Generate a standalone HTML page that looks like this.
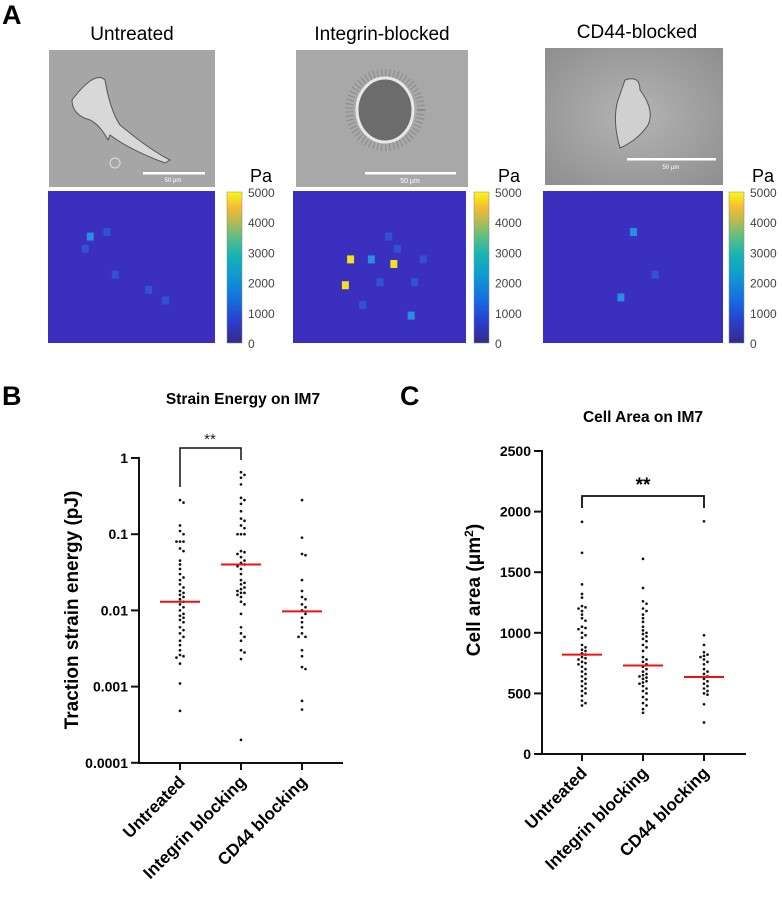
<!DOCTYPE html>
<html><head><meta charset="utf-8"><style>
body{margin:0;background:#fff;width:782px;height:905px;overflow:hidden;font-family:"Liberation Sans",sans-serif}
svg{display:block}
</style></head><body>
<svg id="fig" width="782" height="905" viewBox="0 0 782 905" xmlns="http://www.w3.org/2000/svg">
<defs>
<linearGradient id="parula" x1="0" y1="1" x2="0" y2="0">
<stop offset="0" stop-color="#352a87"/><stop offset="0.15" stop-color="#2a3fd0"/><stop offset="0.3" stop-color="#1272e0"/><stop offset="0.45" stop-color="#109bd0"/><stop offset="0.58" stop-color="#16b3b4"/><stop offset="0.7" stop-color="#5bbd86"/><stop offset="0.82" stop-color="#c0bb4a"/><stop offset="0.9" stop-color="#f6bb35"/><stop offset="1" stop-color="#f9fa14"/>
</linearGradient>
<radialGradient id="bg3" cx="0.5" cy="0.5" r="0.7"><stop offset="0" stop-color="#b4b4b4"/><stop offset="1" stop-color="#8e8e8e"/></radialGradient>
</defs>
<text x="2" y="24" font-size="27" font-weight="bold">A</text>
<text x="132" y="40" font-size="19" text-anchor="middle">Untreated</text>
<text x="382" y="40" font-size="19" text-anchor="middle">Integrin-blocked</text>
<text x="637" y="38" font-size="19" text-anchor="middle">CD44-blocked</text>

<g>
<rect x="49" y="50" width="166" height="137" fill="#a6a6a6"/>
<path d="M72 100 Q95 70 105 80 Q110 110 120 125 Q150 150 170 160 L165 163 Q130 150 110 135 L108 140 Q100 125 90 120 Q72 115 72 100Z" fill="#d8d8d8" stroke="#555" stroke-width="1"/>
<circle cx="115" cy="163" r="5" fill="none" stroke="#ddd"/>
<rect x="143" y="172" width="62" height="2.5" fill="#fff"/><text x="173" y="182" font-size="6" fill="#fff" text-anchor="middle">50 µm</text>
</g>
<g>
<rect x="296" y="50" width="172" height="137" fill="#a8a8a8"/>
<ellipse cx="385" cy="110" rx="36" ry="37" fill="none" stroke="#8a8a8a" stroke-width="8" stroke-dasharray="1 3"/>
<ellipse cx="385" cy="110" rx="28" ry="32" fill="#6c6c6c" stroke="#e8e8e8" stroke-width="3"/>
<rect x="365" y="172" width="91" height="2.5" fill="#fff"/><text x="410" y="183" font-size="7" fill="#fff" text-anchor="middle">50 µm</text>
</g>
<g>
<rect x="545" y="48" width="178" height="137" fill="url(#bg3)"/>
<path d="M625 80 Q640 75 640 90 Q655 110 648 125 Q638 140 620 148 Q612 120 618 100Z" fill="#d0d0d0" stroke="#555"/>
<rect x="627" y="158" width="89" height="2.5" fill="#fff"/><text x="671" y="169" font-size="6" fill="#fff" text-anchor="middle">50 µm</text>
</g>

<g id="heatmaps"></g>
<text x="250" y="182" font-size="18">Pa</text>
<text x="498" y="182" font-size="18">Pa</text>
<text x="752" y="182" font-size="18">Pa</text>

<text x="2" y="405" font-size="27" font-weight="bold">B</text>
<text x="243" y="404" font-size="15.5" font-weight="bold" text-anchor="middle">Strain Energy on IM7</text>
<text x="400" y="405" font-size="27" font-weight="bold">C</text>
<text x="643" y="422" font-size="15.5" font-weight="bold" text-anchor="middle">Cell Area on IM7</text>
<g id="chartB"></g>
<g id="chartC"></g>
</svg>
<script>
const NS="http://www.w3.org/2000/svg";
const categories=["Untreated","Integrin blocking","CD44 blocking"];
const energyUntreated=[0.28,0.26,0.13,0.11,0.1,0.08,0.08,0.08,0.065,0.06,0.045,0.04,0.035,0.03,0.027,0.025,0.022,0.02,0.018,0.017,0.016,0.015,0.014,0.013,0.012,0.011,0.01,0.009,0.0085,0.008,0.0075,0.007,0.006,0.0055,0.005,0.0045,0.004,0.0035,0.003,0.0026,0.0025,0.0024,0.002,0.0011,0.00048];
const energyIntegrin=[0.65,0.6,0.55,0.45,0.3,0.28,0.25,0.2,0.16,0.15,0.13,0.12,0.1,0.1,0.1,0.06,0.058,0.055,0.05,0.045,0.042,0.04,0.038,0.035,0.03,0.025,0.023,0.022,0.02,0.019,0.018,0.017,0.017,0.016,0.015,0.013,0.012,0.009,0.006,0.005,0.0045,0.004,0.003,0.0028,0.0023,0.0002];
const energyCD44=[0.28,0.09,0.055,0.053,0.025,0.018,0.015,0.014,0.012,0.011,0.01,0.009,0.008,0.007,0.006,0.005,0.0045,0.0045,0.003,0.0025,0.0018,0.0017,0.00065,0.0005];
const energyMeans=[0.013,0.04,0.0097];
const energyTicks=[1,0.1,0.01,0.001,0.0001];
const energyTickLabels=["1","0.1","0.01","0.001","0.0001"];
const areaUntreated=[1915,1660,1400,1320,1290,1220,1210,1200,1180,1150,1120,1100,1050,1040,1030,1000,980,960,900,880,860,850,830,820,800,790,780,760,750,740,720,700,680,660,640,620,600,580,560,540,520,500,480,440,420,400];
const areaIntegrin=[1610,1370,1260,1240,1200,1180,1150,1120,1090,1050,1020,1000,990,970,950,930,900,880,850,800,780,760,740,720,700,680,660,650,640,630,620,600,590,580,560,540,520,500,470,450,420,400,370,340];
const areaCD44=[1920,980,900,840,820,810,800,780,760,740,700,680,660,640,620,600,580,560,540,520,500,490,410,260];
const areaMeans=[820,730,635];
const areaTicks=[0,500,1000,1500,2000,2500];
const colorbarTicks=[0,1000,2000,3000,4000,5000];

function el(tag,attrs,parent){const e=document.createElementNS(NS,tag);for(const k in attrs)e.setAttribute(k,attrs[k]);parent.appendChild(e);return e;}

const hm=document.getElementById('heatmaps');
const hmDefs=[[48,215,227],[293,466,474],[543,723,729]];
const blobs=[
 [[0.25,0.3,0.5],[0.35,0.27,0.4],[0.22,0.38,0.4],[0.4,0.55,0.3],[0.6,0.65,0.3],[0.7,0.72,0.3]],
 [[0.55,0.3,0.4],[0.45,0.45,0.5],[0.33,0.45,1],[0.58,0.48,0.95],[0.3,0.62,1],[0.5,0.6,0.35],[0.75,0.45,0.4],[0.68,0.82,0.45],[0.4,0.75,0.3],[0.6,0.38,0.35],[0.7,0.6,0.3]],
 [[0.5,0.27,0.45],[0.43,0.7,0.45],[0.62,0.55,0.3]]];
hmDefs.forEach((d,i)=>{
 const g=el('g',{},hm);
 
 
 const x0=d[0],x1=d[1],y0=191,y1=343;
 el('rect',{x:x0,y:y0,width:x1-x0,height:y1-y0,fill:'#3a2fbf'},g);
 blobs[i].forEach(b=>{
  const v=b[2];const col=v>0.9?'#f2e21c':v>0.4?'#2a8de4':'#3550d8';
  el('rect',{x:x0+b[0]*(x1-x0)-3,y:y0+b[1]*(y1-y0)-4,width:7,height:8,fill:col},g);
 });
 const cb=el('rect',{x:d[2],y:192,width:15,height:151,fill:'url(#parula)',stroke:'#888','stroke-width':0.5},g);
 
 
 colorbarTicks.forEach(t=>{
  const y=343-t/5000*151;
  const tx=el('text',{x:d[2]+21,y:y+5,'font-size':12,fill:'#444'},g);
  tx.textContent=t;
  
  
 });
});

function swarm(g,vals,cx,yf,name){
 const placed=[];
 vals.map(v=>yf(v)).sort((a,b)=>a-b).forEach(y=>{
  let off=0;const cands=[0,3.5,-3.5,7,-7,10.5,-10.5,14,-14];
  for(const c of cands){if(!placed.some(p=>Math.abs(p[1]-y)<3.6&&Math.abs(p[0]-(cx+c))<3.2)){off=c;break;}}
  placed.push([cx+off,y]);
  const c=el('circle',{cx:cx+off,cy:y,r:1.35,fill:'#111'},g);
  
  
 });
}
function xlabels(g,xs,yb){
 categories.forEach((c,i)=>{
  el('line',{x1:xs[i],x2:xs[i],y1:yb,y2:yb+7,stroke:'#111','stroke-width':2},g);
  const t=el('text',{x:xs[i]+6,y:yb+20,'font-size':17,'font-weight':'bold','text-anchor':'end',transform:`rotate(-45 ${xs[i]+6} ${yb+20})`},g);
  t.textContent=c;
  
  
 });
}

(function(){
 const g=document.getElementById('chartB');
 const ax=139,yTop=458,dec=76.2,yb=763;
 const yf=v=>yTop-Math.log10(v)*dec;
 const xs=[180,241,302];
 el('line',{x1:ax,x2:ax,y1:yTop-1,y2:yb+1,stroke:'#111','stroke-width':2},g);
 el('line',{x1:ax-1,x2:343,y1:yb,y2:yb,stroke:'#111','stroke-width':2},g);
 energyTicks.forEach((t,i)=>{
  const y=yf(t);
  el('line',{x1:ax-8,x2:ax,y1:y,y2:y,stroke:'#111','stroke-width':2},g);
  const tx=el('text',{x:ax-11,y:y+5,'font-size':14,'font-weight':'bold','text-anchor':'end'},g);
  tx.textContent=energyTickLabels[i];
  
  
 });
 const yt=el('text',{x:78,y:610,'font-size':19,'font-weight':'bold','text-anchor':'middle',transform:'rotate(-90 78 610)'},g);
 yt.textContent='Traction strain energy (pJ)';
 
 
 [energyUntreated,energyIntegrin,energyCD44].forEach((s,i)=>swarm(g,s,xs[i],yf,'energy-'+i));
 energyMeans.forEach((m,i)=>{
  const l=el('line',{x1:xs[i]-20,x2:xs[i]+20,y1:yf(m),y2:yf(m),stroke:'#f01010','stroke-width':2},g);
  
  
 });
 const br=el('path',{d:`M${xs[0]} 487 V448 H${xs[1]} V460`,fill:'none',stroke:'#111','stroke-width':1.5},g);
 
 
 const st=el('text',{x:210,y:444,'font-size':15,'text-anchor':'middle',fill:'#222'},g);
 st.textContent='**';
 
 
 xlabels(g,xs,yb);
})();

(function(){
 const g=document.getElementById('chartC');
 const ax=542,y0=754,yTop=451;
 const yf=v=>y0-v/2500*(y0-yTop);
 const xs=[582,643,704];
 el('line',{x1:ax,x2:ax,y1:yTop-1,y2:y0+1,stroke:'#111','stroke-width':2},g);
 el('line',{x1:ax-1,x2:746,y1:y0,y2:y0,stroke:'#111','stroke-width':2},g);
 areaTicks.forEach(t=>{
  const y=yf(t);
  el('line',{x1:ax-8,x2:ax,y1:y,y2:y,stroke:'#111','stroke-width':2},g);
  const tx=el('text',{x:ax-11,y:y+5,'font-size':14,'font-weight':'bold','text-anchor':'end'},g);
  tx.textContent=t;
  
  
 });
 const yt=el('text',{x:480,y:590,'font-size':19,'font-weight':'bold','text-anchor':'middle',transform:'rotate(-90 480 590)'},g);
 yt.innerHTML='Cell area (μm<tspan dy="-7" font-size="12">2</tspan><tspan dy="7">)</tspan>';
 
 
 [areaUntreated,areaIntegrin,areaCD44].forEach((s,i)=>swarm(g,s,xs[i],yf,'area-'+i));
 areaMeans.forEach((m,i)=>{
  const l=el('line',{x1:xs[i]-20,x2:xs[i]+20,y1:yf(m),y2:yf(m),stroke:'#f01010','stroke-width':2},g);
  
  
 });
 const br=el('path',{d:`M${xs[0]} 508 V496 H${xs[2]} V508`,fill:'none',stroke:'#111','stroke-width':1.8},g);
 
 
 const st=el('text',{x:643,y:491,'font-size':19,'font-weight':'bold','text-anchor':'middle'},g);
 st.textContent='**';
 
 
 xlabels(g,xs,y0);
})();
</script>
</body></html>
